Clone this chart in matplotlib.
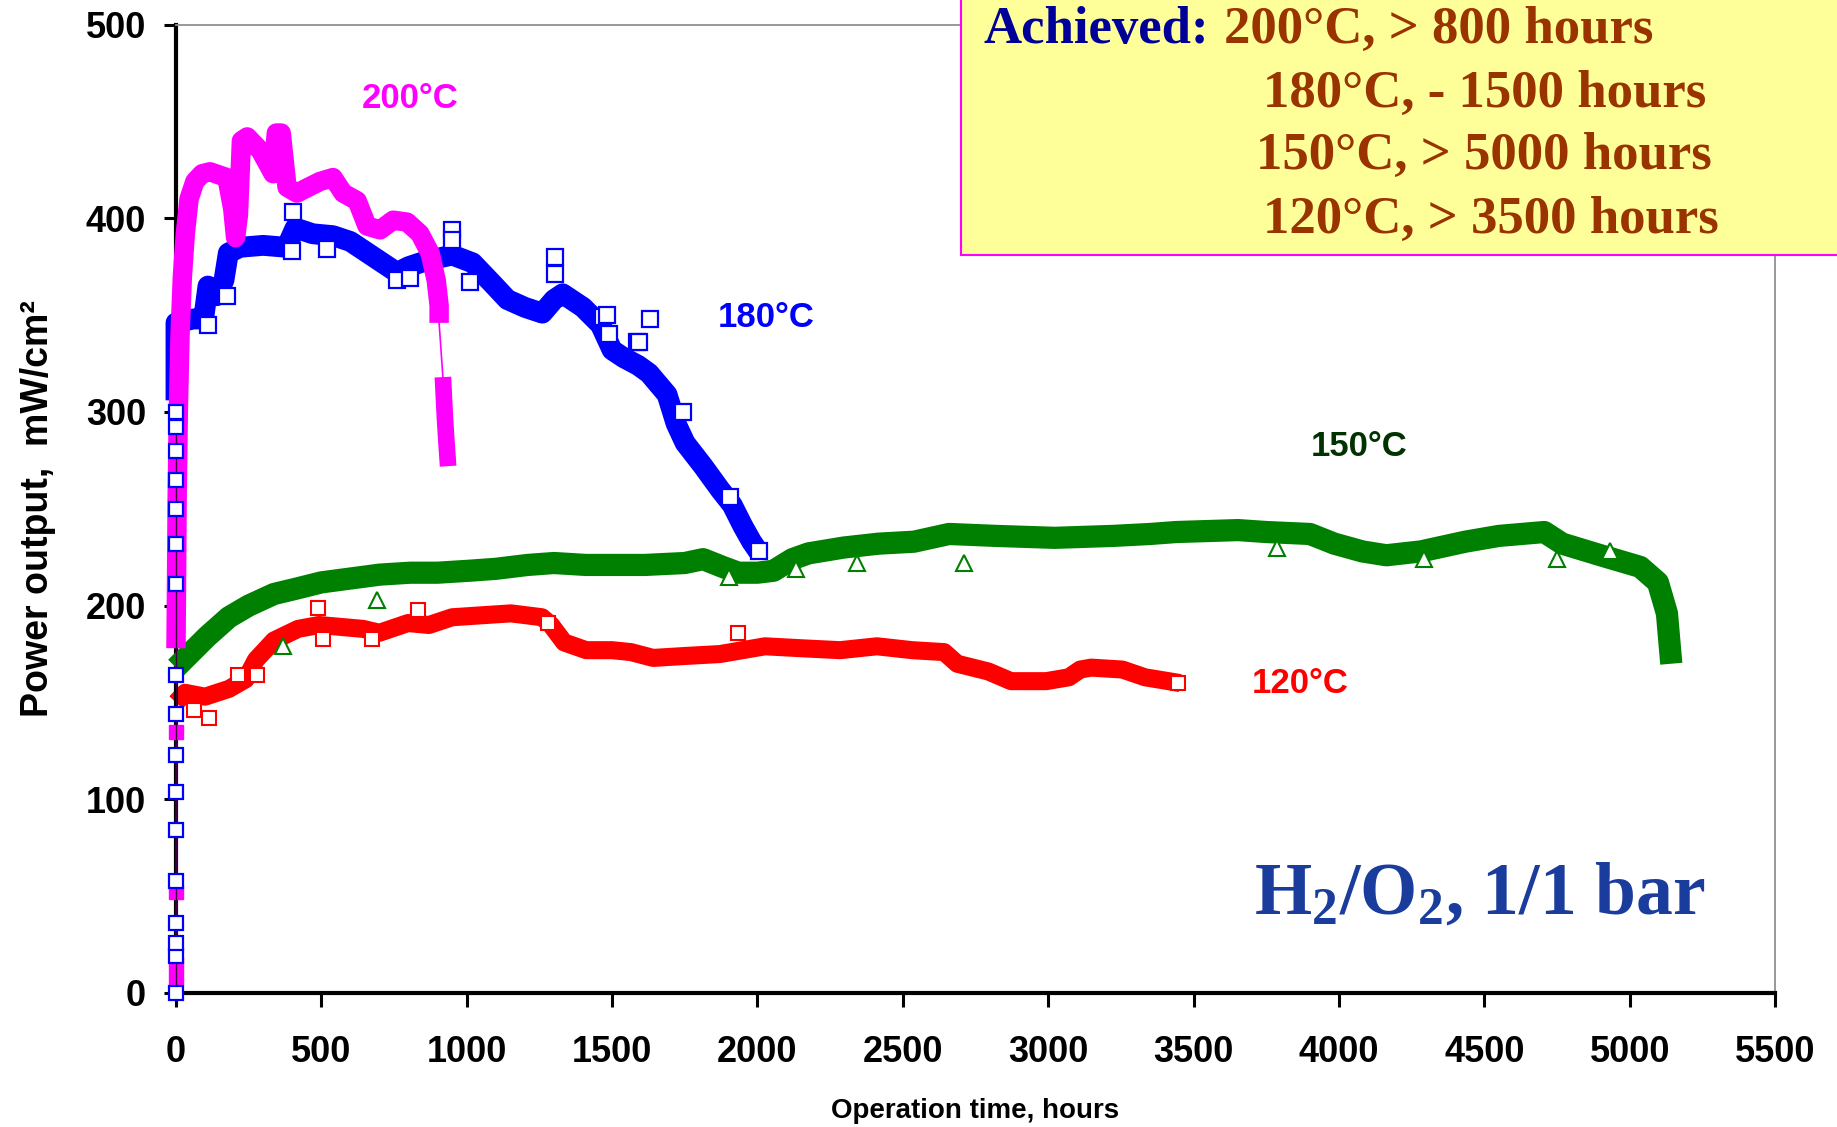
import matplotlib
matplotlib.use('Agg')
import matplotlib.pyplot as plt
from matplotlib.patches import Rectangle

plt.rcParams['font.family'] = ['Liberation Sans', 'DejaVu Sans']
plt.rcParams['font.weight'] = 'bold'
plt.rcParams['axes.labelweight'] = 'bold'
plt.rcParams['mathtext.fontset'] = 'custom'
plt.rcParams['mathtext.rm'] = 'Liberation Serif:bold'
plt.rcParams['mathtext.it'] = 'Liberation Serif:bold'
plt.rcParams['mathtext.bf'] = 'Liberation Serif:bold'

# 200 C run (magenta)
start_power_200 = [8, 15, 52, 135]
hours_200 = [0, 2, 4, 8, 14, 22, 32, 45, 65, 90, 117, 175, 195, 205, 215, 225, 245,
             290, 334, 345, 362, 382, 416, 455, 495, 540, 575, 623, 657, 702, 747,
             795, 839, 874, 895, 905, 905]
power_200 = [178, 215, 255, 300, 340, 370, 392, 410, 419, 423, 424, 421, 405, 390, 402,
             440, 442, 435, 423, 444, 444, 416, 413, 416, 419, 421, 413, 409, 396, 394,
             399, 398, 392, 382, 368, 355, 346]
hours_200_tail = [918, 925, 930, 936]
power_200_tail = [318, 297, 285, 272]

# 180 C run (blue)
start_power_180 = [0, 19, 26, 36, 58, 84, 104, 123, 144, 164, 211, 232, 250, 265, 280, 292, 300]
hours_180 = [0, 0, 30, 60, 95, 110, 140, 165, 180, 220, 300, 380, 410, 470, 540, 600,
             650, 700, 760, 800, 860, 950, 1020, 1090, 1140, 1200, 1260, 1300, 1330,
             1400, 1460, 1500, 1540, 1590, 1627, 1689, 1720, 1751, 1813, 1871, 1913,
             1950, 1980, 2003]
power_180 = [306, 346, 347, 348, 348, 365, 360, 368, 382, 385, 386, 385, 395, 392, 391,
             388, 383, 378, 372, 375, 378, 381, 377, 366, 358, 354, 351, 358, 361, 354,
             345, 332, 328, 324, 320, 309, 294, 284, 272, 260, 252, 241, 233, 228]
spike_hours_180 = [110, 175, 399, 403, 519, 760, 805, 949, 949, 1011, 1304, 1304, 1470,
                   1482, 1491, 1585, 1591, 1632, 1745, 1906, 2006]
spike_power_180 = [345, 360, 383, 403, 384, 368, 369, 394, 389, 367, 380, 371, 349,
                   350, 340, 336, 336, 348, 300, 256, 228]

# 150 C run (green)
hours_150 = [0, 40, 107, 182, 250, 337, 420, 500, 600, 700, 806, 900, 1007, 1100, 1209,
             1300, 1410, 1612, 1750, 1813, 1880, 1934, 2000, 2055, 2120, 2176, 2297, 2417,
             2538, 2659, 2820, 3022, 3223, 3351, 3440, 3653, 3750, 3900, 3984, 4080, 4163,
             4282, 4434, 4550, 4706, 4768, 4900, 5036, 5097, 5128, 5143]
power_150 = [168, 174, 184, 194, 200, 206, 209, 212, 214, 216, 217, 217, 218, 219, 221,
             222, 221, 221, 222, 224, 220, 217, 217, 218, 224, 227, 230, 232, 233, 237,
             236, 235, 236, 237, 238, 239, 238, 237, 232, 228, 226, 228, 233, 236, 238,
             232, 226, 220, 212, 196, 170]
spike_hours_150 = [368, 691, 1902, 2133, 2343, 2710, 3786, 4292, 4750, 4933]
spike_power_150 = [179, 203, 215, 219, 222, 222, 230, 224, 224, 228]

# 120 C run (red)
hours_120 = [0, 31, 100, 182, 240, 275, 337, 420, 492, 643, 700, 798, 870, 950, 1050,
             1152, 1259, 1290, 1335, 1411, 1500, 1565, 1641, 1750, 1871, 2026, 2150, 2284,
             2411, 2532, 2642, 2687, 2794, 2872, 2993, 3071, 3110, 3148, 3255, 3333, 3454]
power_120 = [150, 155, 153, 157, 162, 172, 182, 188, 190, 188, 186, 191, 190, 194, 195,
             196, 194, 190, 181, 177, 177, 176, 173, 174, 175, 179, 178, 177, 179, 177,
             176, 170, 166, 161, 161, 163, 167, 168, 167, 163, 160]
spike_hours_120 = [61, 113, 214, 278, 489, 506, 674, 833, 1280, 1934, 3445]
spike_power_120 = [146, 142, 164, 164, 199, 183, 183, 198, 191, 186, 160]

tick_x = list(range(0, 5501, 500))
tick_y = list(range(0, 501, 100))

magenta = '#FF00FF'
blue = '#0000FF'
green = '#008000'
red = '#FF0000'

fig = plt.figure(figsize=(18.37, 11.27), dpi=100)
ax = fig.add_axes([0.0958, 0.1189, 0.8705, 0.8593])

# red
ax.plot(hours_120, power_120, color=red, lw=13, solid_joinstyle='round',
        solid_capstyle='butt', zorder=2, clip_on=False)
ax.plot(spike_hours_120, spike_power_120, ls='none', marker='s', ms=10, mfc='white',
        mec=red, mew=1.5, zorder=2.1)

# green
ax.plot(hours_150, power_150, color=green, lw=16, solid_joinstyle='round',
        solid_capstyle='butt', zorder=3, clip_on=False)
ax.plot(spike_hours_150, spike_power_150, ls='none', marker='^', ms=12, mfc='white',
        mec=green, mew=1.5, zorder=3.1)

# blue
ax.plot(hours_180, power_180, color=blue, lw=15, solid_joinstyle='round',
        solid_capstyle='butt', zorder=4, clip_on=False)
ax.plot(spike_hours_180, spike_power_180, ls='none', marker='s', ms=11, mfc='white',
        mec=blue, mew=1.6, zorder=4.1)

# magenta
ax.plot([0] * len(start_power_200), start_power_200, color=magenta, lw=1, marker='s',
        ms=10, mfc=magenta, mec=magenta, zorder=5, clip_on=False)
ax.plot(hours_200, power_200, color=magenta, lw=14, solid_joinstyle='round',
        solid_capstyle='butt', zorder=5, clip_on=False)
ax.plot([hours_200[-1], hours_200_tail[0]], [power_200[-1], power_200_tail[0]],
        color=magenta, lw=1.2, zorder=5)
ax.plot(hours_200_tail, power_200_tail, color=magenta, lw=12, solid_capstyle='butt', zorder=5)

# blue start-up points along the axis
ax.plot([0] * len(start_power_180), start_power_180, color='#400040', lw=1, marker='s',
        ms=10, mfc='white', mec=blue, mew=1.6, zorder=6, clip_on=False)

# curve labels
ax.text(806, 462, '200°C', color=magenta, fontsize=25, ha='center', va='center')
ax.text(2031, 349, '180°C', color=blue, fontsize=25, ha='center', va='center')
ax.text(4069, 282, '150°C', color='#003300', fontsize=25, ha='center', va='center')
ax.text(3868, 160, '120°C', color=red, fontsize=25, ha='center', va='center')

ax.set_xlim(0, 5500)
ax.set_ylim(0, 500)
ax.set_xticks(tick_x)
ax.set_yticks(tick_y)
ax.tick_params(axis='both', direction='out', width=2.2, labelsize=26)
ax.tick_params(axis='x', length=10, pad=20)
ax.tick_params(axis='y', length=8.5, pad=13)

for side in ['left', 'bottom']:
    ax.spines[side].set_linewidth(3)
    ax.spines[side].set_color('black')
for side in ['top', 'right']:
    ax.spines[side].set_linewidth(1.3)
    ax.spines[side].set_color('#909090')

ax.set_ylabel('Power output,  mW/cm²', fontsize=27, fontweight='bold')
ax.yaxis.set_label_coords(-0.075, 0.5)
ax.set_xlabel('Operation time, hours', fontsize=20, fontweight='bold')
ax.xaxis.set_label_coords(0.5, -0.108)

# summary box
box = Rectangle((961 / 1837, 1 - 255 / 1127), 1.0, 0.3, transform=fig.transFigure,
                facecolor='#FFFF99', edgecolor=magenta, lw=1.5, zorder=10)
fig.add_artist(box)
serif = ['Liberation Serif', 'DejaVu Serif']
brown = '#993300'
fig.text(984 / 1837, 1 - 43 / 1127, 'Achieved:', color='#000099', family=serif,
         fontsize=38, va='baseline', zorder=11)
summary_lines = ['200°C, > 800 hours', '180°C, - 1500 hours',
                 '150°C, > 5000 hours', '120°C, > 3500 hours']
line_x = [1224, 1263, 1256, 1263]
line_y = [43, 107, 169, 233]
for txt, lx, ly in zip(summary_lines, line_x, line_y):
    fig.text(lx / 1837, 1 - ly / 1127, txt, color=brown, family=serif,
             fontsize=38, va='baseline', zorder=11)

fig.text(1254 / 1837, 1 - 914 / 1127, r'H$_2$/O$_2$, 1/1 bar', color='#1A3C9C',
         family=serif, fontsize=53, va='baseline')

fig.savefig('out.png', dpi=100)
